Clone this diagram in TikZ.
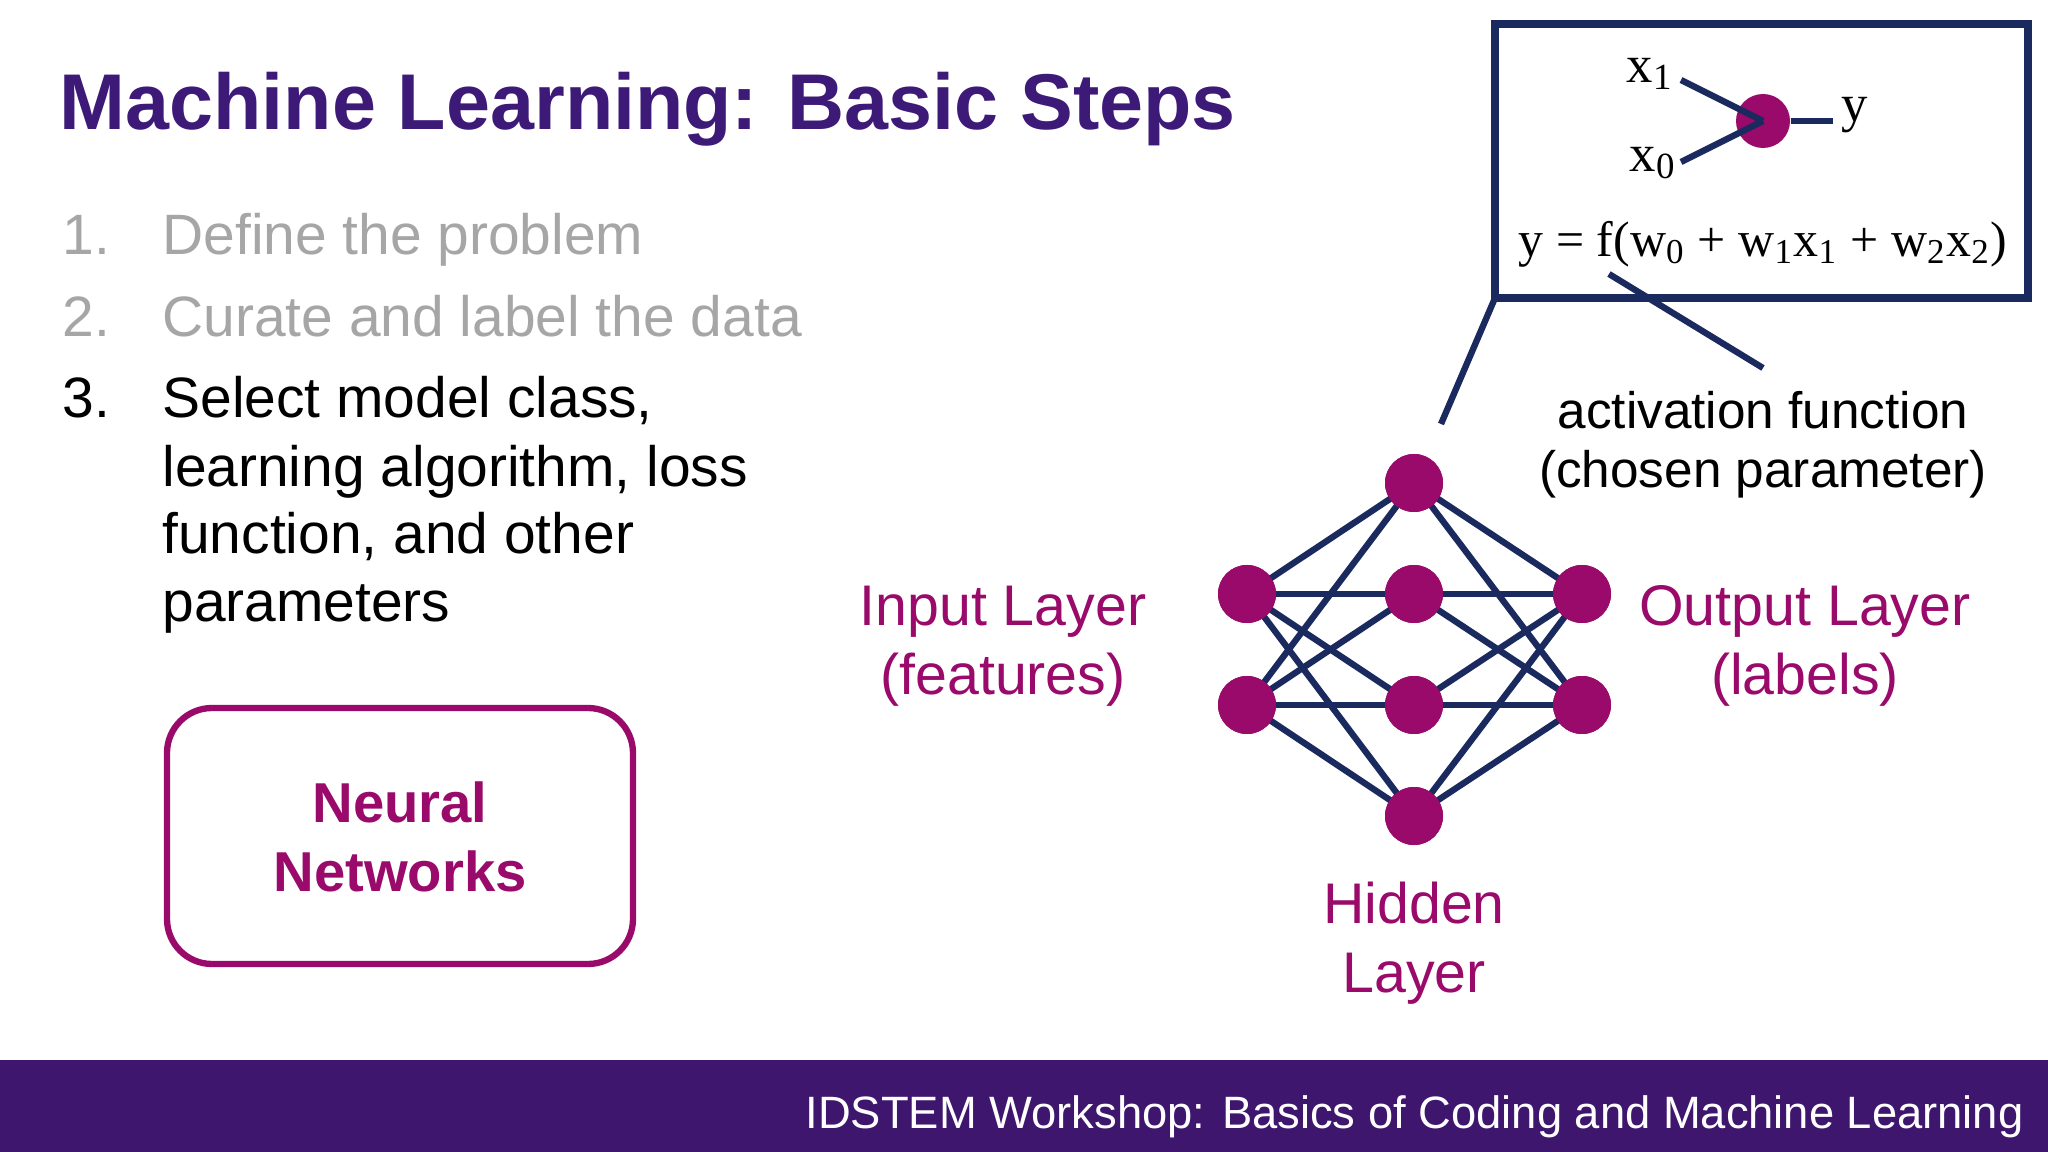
\documentclass[tikz,border=0pt]{standalone}
\usepackage{fontspec}
\setmainfont{Liberation Sans}
\newfontfamily\serifface{Liberation Serif}
\usetikzlibrary{positioning,calc}
\definecolor{titlepurple}{HTML}{3E1A78}
\definecolor{nnmagenta}{HTML}{990A6B}
\definecolor{wirenavy}{HTML}{1B2A5E}
\definecolor{stepgray}{HTML}{A6A6A6}
\definecolor{bandpurple}{HTML}{3F166E}
\tikzset{
    neuron/.style = {
        circle,
        fill=nnmagenta,
        minimum size=0.58cm,
        inner sep=0pt
    },
    wire/.style = {
        draw=wirenavy,
        line width=1.8pt
    },
    steptext/.style = {
        anchor=base west,
        font=\fontsize{16.2}{18}\selectfont
    },
    layerlabel/.style = {
        align=center,
        text=nnmagenta,
        font=\fontsize{16.3}{19.5}\selectfont
    },
}
\begin{document}
\begin{tikzpicture}
                \useasboundingbox[fill=white] (0,0) rectangle (20.48,-11.52);
                \fill[bandpurple] (0,-10.60) rectangle (20.48,-11.52);
                \node[anchor=east, text=white, font=\fontsize{12.9}{15}\selectfont] (foot) at (20.36,-11.17) {IDSTEM Workshop: Basics of Coding and Machine Learning};

                \node[anchor=base west, text=titlepurple, font=\fontsize{22.5}{26}\selectfont\bfseries, inner sep=0pt] (title) at (0.59,-1.30) {Machine Learning: Basic Steps};

                \node[steptext, text=stepgray] (n1) at (0.5,-2.55) {1.};
                \node[steptext, text=stepgray] (s1) at (1.5,-2.55) {Define the problem};
                \node[steptext, text=stepgray] (n2) at (0.5,-3.37) {2.};
                \node[steptext, text=stepgray] (s2) at (1.5,-3.37) {Curate and label the data};
                \node[steptext] (n3) at (0.5,-4.18) {3.};
                \node[steptext] (s3a) at (1.5,-4.18) {Select model class,};
                \node[steptext] (s3b) at (1.5,-4.86) {learning algorithm, loss};
                \node[steptext] (s3c) at (1.5,-5.54) {function, and other};
                \node[steptext] (s3d) at (1.5,-6.22) {parameters};

                \draw[nnmagenta, line width=1.8pt, rounded corners=0.45cm] (1.67,-7.08) rectangle (6.33,-9.64);
                \node[align=center, text=nnmagenta, font=\fontsize{16}{19.5}\selectfont\bfseries] (nn) at (4.0,-8.37) {Neural\\Networks};

                % network
                \node[neuron] (i1) at (12.47,-5.94) {};
                \node[neuron] (i2) at (12.47,-7.05) {};
                \node[neuron] (h1) at (14.14,-4.83) {};
                \node[neuron] (h2) at (14.14,-5.94) {};
                \node[neuron] (h3) at (14.14,-7.05) {};
                \node[neuron] (h4) at (14.14,-8.16) {};
                \node[neuron] (o1) at (15.82,-5.94) {};
                \node[neuron] (o2) at (15.82,-7.05) {};
                \foreach \i in {i1,i2} {
                    \foreach \h in {h1,h2,h3,h4} {
                        \path[wire] (\i.center) -- (\h.center);
                    }
                }
                \foreach \h in {h1,h2,h3,h4} {
                    \foreach \o in {o1,o2} {
                        \path[wire] (\h.center) -- (\o.center);
                    }
                }
                \foreach \n in {i1,i2,h1,h2,h3,h4,o1,o2} {
                    \node[neuron] at (\n) {};
                }

                \node[layerlabel] (inlab) at (10.03,-6.46) {Input Layer\\(features)};
                \node[layerlabel] (outlab) at (18.05,-6.46) {Output Layer\\(labels)};
                \node[layerlabel] (hidlab) at (14.14,-9.43) {Hidden\\Layer};
                \node[align=center, font=\fontsize{14.6}{16.8}\selectfont] (act) at (17.63,-4.45) {activation function\\(chosen parameter)};

                % inset
                \draw[wirenavy, line width=2.2pt] (14.95,-0.24) rectangle (20.28,-2.98);
                \coordinate (callout) at (14.41,-4.24);
                \path[wire] (14.95,-2.98) -- (callout);
                \node[neuron, minimum size=0.54cm] (unit) at (17.63,-1.21) {};
                \node[font=\serifface\fontsize{15}{18}\selectfont] (x1) at (16.50,-0.74) {x\textsubscript{1}};
                \node[font=\serifface\fontsize{15}{18}\selectfont] (x0) at (16.53,-1.63) {x\textsubscript{0}};
                \node[font=\serifface\fontsize{15}{18}\selectfont] (yout) at (18.55,-1.15) {y};
                \path[wire] (16.81,-0.80) -- (unit.center);
                \path[wire] (16.81,-1.62) -- (unit.center);
                \path[wire] (unit) -- (18.33,-1.21);
                \node[font=\serifface\fontsize{14.2}{17}\selectfont] (formula) at (17.63,-2.44) {y = f(w\textsubscript{0} + w\textsubscript{1}x\textsubscript{1} + w\textsubscript{2}x\textsubscript{2})};
                \coordinate (fpoint) at (16.09,-2.74);
                \path[wire] (fpoint) -- (17.63,-3.68);
            \end{tikzpicture}
\end{document}
